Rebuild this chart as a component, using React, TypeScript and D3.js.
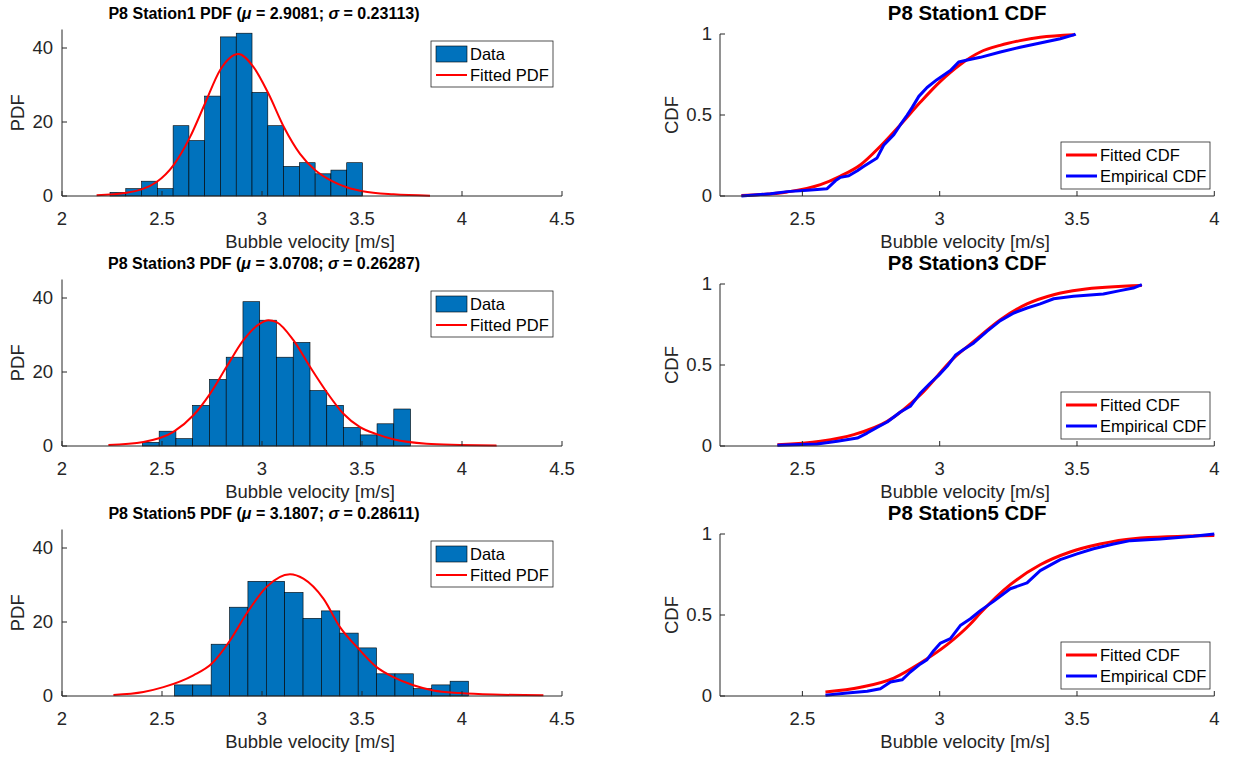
import React from 'react';
import * as d3 from 'd3';

// ---------- DATA ----------
const stationNames = ['Station1', 'Station3', 'Station5'];
const muValues = ['2.9081', '3.0708', '3.1807'];
const sigmaValues = ['0.23113', '0.26287', '0.28611'];

// histogram bins: first edge and width per station
const binStart = [2.24, 2.402, 2.562];
const binWidth = [0.0789, 0.0838, 0.0919];
const counts1 = [1, 2, 4, 2, 19, 15, 27, 43, 44, 28, 19, 8, 9, 6, 7, 9];
const counts3 = [1, 4, 2, 11, 18, 24, 39, 34, 24, 28, 15, 11, 5, 3, 6, 10];
const counts5 = [3, 3, 14, 24, 31, 31, 28, 21, 23, 17, 13, 6, 6, 2, 3, 4];

// fitted PDF curves (scaled to counts)
const fitPdf1: [number, number][] = [
  [2.173, 0.2], [2.323, 0.9], [2.473, 3.8], [2.557, 8.3], [2.64, 15.9], [2.715, 25],
  [2.79, 34], [2.882, 38.4], [2.957, 34.9], [3.032, 27.7], [3.11, 18.6], [3.19, 11.4],
  [3.268, 6.9], [3.348, 4.1], [3.427, 2.3], [3.503, 1.3], [3.657, 0.45], [3.84, 0.1],
];
const fitPdf3: [number, number][] = [
  [2.232, 0.3], [2.407, 1.1], [2.557, 3.8], [2.657, 8.3], [2.74, 14.1], [2.823, 21.4],
  [2.907, 28.6], [2.99, 33.1], [3.032, 34], [3.073, 33.5], [3.157, 28.6], [3.24, 21.4],
  [3.323, 14.6], [3.407, 8.7], [3.49, 5.1], [3.573, 3.2], [3.657, 1.8], [3.823, 0.6],
  [3.99, 0.3], [4.173, 0.1],
];
const fitPdf5: [number, number][] = [
  [2.257, 0.3], [2.407, 1.1], [2.507, 2.4], [2.657, 5.6], [2.748, 8.7], [2.84, 15],
  [2.923, 22.3], [3.023, 29.5], [3.14, 32.9], [3.207, 31.7], [3.307, 26.3], [3.39, 18.6],
  [3.482, 12.8], [3.573, 7.8], [3.657, 5.1], [3.757, 2.9], [3.857, 1.5], [3.99, 0.8],
  [4.157, 0.4], [4.407, 0.2],
];

// fitted CDF curves
const fitCdf1: [number, number][] = [
  [2.278, 0.003], [2.445, 0.025], [2.566, 0.07], [2.639, 0.123], [2.712, 0.193], [2.784, 0.307],
  [2.857, 0.44], [2.93, 0.58], [3.0025, 0.708], [3.075, 0.812], [3.148, 0.889], [3.22, 0.93],
  [3.293, 0.959], [3.366, 0.98], [3.49, 0.996],
];
const fitCdf3: [number, number][] = [
  [2.409, 0.008], [2.566, 0.029], [2.687, 0.07], [2.809, 0.152], [2.93, 0.317], [3.051, 0.543],
  [3.124, 0.646], [3.221, 0.78], [3.318, 0.877], [3.415, 0.934], [3.512, 0.965], [3.736, 0.99],
];
const fitCdf5: [number, number][] = [
  [2.584, 0.025], [2.712, 0.054], [2.833, 0.111], [2.93, 0.204], [3.027, 0.317], [3.109, 0.44],
  [3.148, 0.512], [3.257, 0.687], [3.366, 0.81], [3.475, 0.889], [3.584, 0.938], [3.705, 0.971],
  [4.0, 0.99],
];

// empirical CDF curves
const empCdf1: [number, number][] = [
  [2.278, 0.0], [2.384, 0.014], [2.445, 0.027], [2.518, 0.035], [2.59, 0.045], [2.621, 0.095],
  [2.639, 0.115], [2.669, 0.125], [2.7, 0.156], [2.724, 0.183], [2.772, 0.235], [2.796, 0.313],
  [2.833, 0.379], [2.857, 0.44], [2.881, 0.498], [2.9, 0.547], [2.924, 0.615], [2.954, 0.67],
  [2.99, 0.718], [3.039, 0.774], [3.069, 0.827], [3.105, 0.841], [3.148, 0.856], [3.221, 0.889],
  [3.293, 0.918], [3.366, 0.944], [3.439, 0.971], [3.491, 0.996], [3.495, 1.0],
];
const empCdf3: [number, number][] = [
  [2.409, 0.004], [2.554, 0.012], [2.627, 0.029], [2.7, 0.049], [2.736, 0.08], [2.772, 0.115],
  [2.809, 0.148], [2.857, 0.21], [2.893, 0.245], [2.93, 0.327], [2.966, 0.389], [2.996, 0.436],
  [3.027, 0.492], [3.057, 0.56], [3.087, 0.595], [3.124, 0.636], [3.172, 0.708], [3.221, 0.774],
  [3.27, 0.821], [3.318, 0.852], [3.366, 0.877], [3.415, 0.909], [3.487, 0.924], [3.596, 0.938],
  [3.657, 0.959], [3.705, 0.975], [3.736, 0.996],
];
const empCdf5: [number, number][] = [
  [2.584, 0.004], [2.663, 0.018], [2.736, 0.029], [2.784, 0.045], [2.821, 0.086], [2.863, 0.1],
  [2.893, 0.148], [2.93, 0.198], [2.954, 0.224], [2.978, 0.28], [3.003, 0.327], [3.039, 0.354],
  [3.075, 0.435], [3.112, 0.477], [3.148, 0.527], [3.196, 0.584], [3.257, 0.662], [3.318, 0.698],
  [3.366, 0.774], [3.439, 0.842], [3.5, 0.877], [3.56, 0.909], [3.633, 0.938], [3.694, 0.959],
  [3.803, 0.969], [3.924, 0.986], [4.0, 1.0],
];

const pdfXTicks = [2, 2.5, 3, 3.5, 4, 4.5];
const pdfYTicks = [0, 20, 40];
const cdfXTicks = [2.5, 3, 3.5, 4];
const cdfYTicks = [0, 0.5, 1];

const countsAll = [counts1, counts3, counts5];
const fitPdfAll = [fitPdf1, fitPdf3, fitPdf5];
const fitCdfAll = [fitCdf1, fitCdf3, fitCdf5];
const empCdfAll = [empCdf1, empCdf3, empCdf5];

// ---------- LAYOUT ----------
const FONT = '"Liberation Sans", Arial, Helvetica, sans-serif';
const AX = '#262626';
const ROW_DY = 250;
const TICK_FS = 18.5;
const LABEL_FS = 18.5;
const LEG_FS = 16.5;
const pdfBox = { x0: 62, x1: 562, yTop: 29.5, yBot: 196 };
const cdfBox = { x0: 720, x1: 1214.3, yTop: 34, yBot: 196 };

function fmt(v: number) {
  return String(v);
}

function PdfPanel({ i }: { i: number }) {
  const off = i * ROW_DY;
  const x = d3.scaleLinear().domain([2, 4.5]).range([pdfBox.x0, pdfBox.x1]);
  const y = d3.scaleLinear().domain([0, 45]).range([pdfBox.yBot + off, pdfBox.yTop + off]);
  const counts = countsAll[i];
  const line = d3.line<[number, number]>().x(d => x(d[0])).y(d => y(d[1])).curve(d3.curveMonotoneX);
  const cx = (pdfBox.x0 + pdfBox.x1) / 2;
  const yb = pdfBox.yBot + off;
  return (
    <g>
      {counts.map((c, k) => {
        const e0 = binStart[i] + k * binWidth[i];
        const e1 = e0 + binWidth[i];
        return (
          <rect key={k} x={x(e0)} y={y(c)} width={x(e1) - x(e0)} height={yb - y(c)}
            fill="#0072BD" stroke="#000" strokeWidth={0.6} />
        );
      })}
      <path d={line(fitPdfAll[i]) || ''} fill="none" stroke="#FF0000" strokeWidth={2} />
      {/* axes */}
      <line x1={pdfBox.x0} x2={pdfBox.x1} y1={yb} y2={yb} stroke={AX} strokeWidth={1} />
      <line x1={pdfBox.x0} x2={pdfBox.x0} y1={yb} y2={pdfBox.yTop + off} stroke={AX} strokeWidth={1} />
      {pdfXTicks.map(t => (
        <g key={t}>
          <line x1={x(t)} x2={x(t)} y1={yb} y2={yb - 5} stroke={AX} />
          <text x={x(t)} y={yb + 28.5} textAnchor="middle" fontSize={TICK_FS} fill={AX} fontFamily={FONT}>{fmt(t)}</text>
        </g>
      ))}
      {pdfYTicks.map(t => (
        <g key={t}>
          <line x1={pdfBox.x0} x2={pdfBox.x0 + 5} y1={y(t)} y2={y(t)} stroke={AX} />
          <text x={pdfBox.x0 - 9} y={y(t)} dy="0.35em" textAnchor="end" fontSize={TICK_FS} fill={AX} fontFamily={FONT}>{fmt(t)}</text>
        </g>
      ))}
      <text x={cx - 2} y={yb + 52} textAnchor="middle" fontSize={LABEL_FS} fill={AX} fontFamily={FONT}>Bubble velocity [m/s]</text>
      <text transform={`translate(${24},${(pdfBox.yTop + pdfBox.yBot) / 2 + off}) rotate(-90)`} textAnchor="middle"
        fontSize={LABEL_FS} fill={AX} fontFamily={FONT}>PDF</text>
      <text x={264} y={19 + off} textAnchor="middle" fontSize={16} fontWeight="bold" fill="#000" fontFamily={FONT}>
        {`P8 ${stationNames[i]} PDF (`}
        <tspan fontStyle="italic">μ</tspan>
        {` = ${muValues[i]}; `}
        <tspan fontStyle="italic">σ</tspan>
        {` = ${sigmaValues[i]})`}
      </text>
      {/* legend */}
      <g>
        <rect x={431} y={41 + off} width={122} height={46} fill="#fff" stroke={AX} strokeWidth={0.8} />
        <rect x={436} y={46 + off} width={31} height={16} fill="#0072BD" stroke="#000" strokeWidth={0.6} />
        <text x={470} y={54 + off} dy="0.35em" fontSize={LEG_FS} fill="#000" fontFamily={FONT}>Data</text>
        <line x1={436} x2={467} y1={75 + off} y2={75 + off} stroke="#FF0000" strokeWidth={2} />
        <text x={470} y={75 + off} dy="0.35em" fontSize={LEG_FS} fill="#000" fontFamily={FONT}>Fitted PDF</text>
      </g>
    </g>
  );
}

function CdfPanel({ i }: { i: number }) {
  const off = i * ROW_DY;
  const x = d3.scaleLinear().domain([2.2, 4]).range([cdfBox.x0, cdfBox.x1]);
  const y = d3.scaleLinear().domain([0, 1]).range([cdfBox.yBot + off, cdfBox.yTop + off]);
  const smooth = d3.line<[number, number]>().x(d => x(d[0])).y(d => y(d[1])).curve(d3.curveMonotoneX);
  const lin = d3.line<[number, number]>().x(d => x(d[0])).y(d => y(d[1]));
  const cx = (cdfBox.x0 + cdfBox.x1) / 2;
  const yb = cdfBox.yBot + off;
  return (
    <g>
      <path d={smooth(fitCdfAll[i]) || ''} fill="none" stroke="#FF0000" strokeWidth={3} />
      <path d={lin(empCdfAll[i]) || ''} fill="none" stroke="#0000FF" strokeWidth={3} strokeLinejoin="round" />
      <line x1={cdfBox.x0} x2={cdfBox.x1} y1={yb} y2={yb} stroke={AX} strokeWidth={1} />
      <line x1={cdfBox.x0} x2={cdfBox.x0} y1={yb} y2={cdfBox.yTop + off} stroke={AX} strokeWidth={1} />
      {cdfXTicks.map(t => (
        <g key={t}>
          <line x1={x(t)} x2={x(t)} y1={yb} y2={yb - 5} stroke={AX} />
          <text x={x(t)} y={yb + 28.5} textAnchor="middle" fontSize={TICK_FS} fill={AX} fontFamily={FONT}>{fmt(t)}</text>
        </g>
      ))}
      {cdfYTicks.map(t => (
        <g key={t}>
          <line x1={cdfBox.x0} x2={cdfBox.x0 + 5} y1={y(t)} y2={y(t)} stroke={AX} />
          <text x={cdfBox.x0 - 8} y={y(t)} dy="0.35em" textAnchor="end" fontSize={TICK_FS} fill={AX} fontFamily={FONT}>{fmt(t)}</text>
        </g>
      ))}
      <text x={cx - 2} y={yb + 52} textAnchor="middle" fontSize={LABEL_FS} fill={AX} fontFamily={FONT}>Bubble velocity [m/s]</text>
      <text transform={`translate(${678},${(cdfBox.yTop + cdfBox.yBot) / 2 + off}) rotate(-90)`} textAnchor="middle"
        fontSize={LABEL_FS} fill={AX} fontFamily={FONT}>CDF</text>
      <text x={cx} y={19.5 + off} textAnchor="middle" fontSize={20.4} fontWeight="bold" fill="#000" fontFamily={FONT}>
        {`P8 ${stationNames[i]} CDF`}
      </text>
      <g>
        <rect x={1061} y={142 + off} width={149} height={47} fill="#fff" stroke={AX} strokeWidth={0.8} />
        <line x1={1066} x2={1097} y1={155 + off} y2={155 + off} stroke="#FF0000" strokeWidth={3} />
        <text x={1100} y={155 + off} dy="0.35em" fontSize={LEG_FS} fill="#000" fontFamily={FONT}>Fitted CDF</text>
        <line x1={1066} x2={1097} y1={176 + off} y2={176 + off} stroke="#0000FF" strokeWidth={3} />
        <text x={1100} y={176 + off} dy="0.35em" fontSize={LEG_FS} fill="#000" fontFamily={FONT}>Empirical CDF</text>
      </g>
    </g>
  );
}

export default function App() {
  return (
    <svg width={1233} height={758} style={{ position: 'absolute', left: 0, top: 0, background: '#fff' }}>
      <rect x={0} y={0} width={1233} height={758} fill="#fff" />
      {[0, 1, 2].map(i => (
        <g key={i}>
          <PdfPanel i={i} />
          <CdfPanel i={i} />
        </g>
      ))}
    </svg>
  );
}
